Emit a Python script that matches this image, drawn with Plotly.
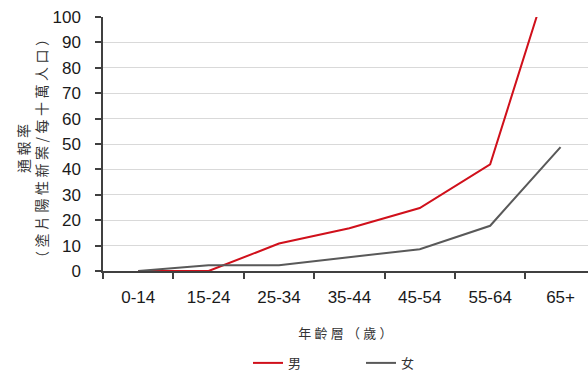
import plotly.graph_objects as go

age_groups = ["0-14", "15-24", "25-34", "35-44", "45-54", "55-64", "65+"]
male_rate = [0, 0, 10.8, 16.8, 24.8, 42.0, 130.0]
female_rate = [0, 2.3, 2.3, 5.5, 8.6, 17.8, 48.8]
y_ticks = [0, 10, 20, 30, 40, 50, 60, 70, 80, 90, 100]

sp = "\u2005"
def spaced(s):
    return sp.join(list(s))

fig = go.Figure()
fig.add_trace(go.Scatter(x=age_groups, y=male_rate, mode="lines", name="男",
                         line=dict(color="#D0101B", width=2)))
fig.add_trace(go.Scatter(x=age_groups, y=female_rate, mode="lines", name="女",
                         line=dict(color="#595959", width=2)))

tick_font = dict(family="Liberation Sans, Arial, sans-serif", size=17, color="#1a1a1a")
cjk_font = dict(family="Noto Sans CJK TC, sans-serif", size=13, color="#333333")
ytitle_font = dict(family="Noto Sans CJK TC, sans-serif", size=14, color="#333333")

fig.update_layout(
    width=588, height=371, autosize=False,
    margin=dict(l=103, r=0, t=17, b=100, autoexpand=False),
    plot_bgcolor="white", paper_bgcolor="white",
    showlegend=True,
    legend=dict(orientation="h", x=(248 - 103) / 485, xanchor="left", y=-0.362, yanchor="middle",
                font=dict(family="Noto Sans CJK TC, sans-serif", size=13, color="#333333"),
                itemwidth=30, entrywidth=68, tracegroupgap=0),
    xaxis=dict(
        type="category", range=[-0.5, 6.39], automargin=False,
        showline=True, linecolor="#404040", linewidth=1.5,
        ticks="outside", tickson="boundaries", ticklen=6, tickcolor="#404040", tickwidth=1.5,
        tickfont=tick_font, ticklabelstandoff=10,
        showgrid=False,
        title=dict(text=spaced("年齡層（歲）"), font=cjk_font, standoff=23),
    ),
    yaxis=dict(
        range=[0, 100], tickvals=y_ticks, automargin=False,
        showline=True, linecolor="#404040", linewidth=1.5,
        ticks="outside", ticklen=6, tickcolor="#404040", tickwidth=1.5,
        tickfont=tick_font, ticklabelstandoff=11,
        showgrid=True, gridcolor="#d9d9d9", gridwidth=1,
        zeroline=False,
    ),
    annotations=[dict(
        text=spaced("通報率") + "<br>" + spaced("（塗片陽性新案/每十萬人口）"),
        textangle=-90, xref="paper", yref="paper",
        x=(32 - 103) / 485, y=0.48, xanchor="center", yanchor="middle",
        showarrow=False, font=ytitle_font,
    )],
)

fig.write_html("out.html",
               config={"responsive": False, "displayModeBar": False},
               post_script="document.body.style.margin='0';document.body.style.padding='0';document.body.style.overflow='hidden';")
